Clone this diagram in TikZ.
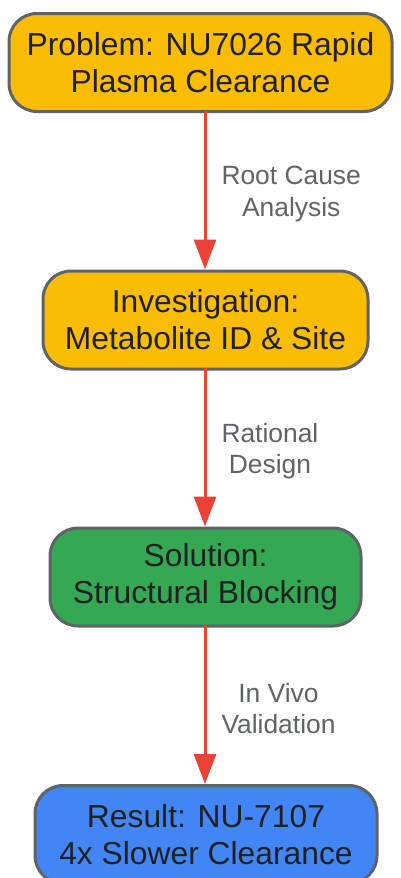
\documentclass[tikz,border=0pt]{standalone}
\usepackage{fontspec}
\setmainfont{Liberation Sans}
\usetikzlibrary{arrows.meta}
\definecolor{cyellow}{HTML}{FBBC04}
\definecolor{cgreen}{HTML}{34A853}
\definecolor{cblue}{HTML}{4285F4}
\definecolor{cstroke}{HTML}{5F6368}
\definecolor{ctext}{HTML}{202124}
\definecolor{cred}{HTML}{EA4335}
\definecolor{clabel}{HTML}{5F6368}
\tikzset{
  box/.style={draw=cstroke, line width=3pt, rounded corners=28pt, align=center,
    text=ctext, font=\fontsize{31.8}{37}\selectfont, inner sep=0pt, minimum height=98pt},
  flow/.style={draw=cred, line width=3pt, -{Triangle[length=30pt,width=22pt]}},
  lbl/.style={text=clabel, font=\fontsize{26.4}{31.5}\selectfont, align=center, anchor=west, inner sep=0pt}
}
\begin{document}
\begin{tikzpicture}[x=1pt,y=1pt]
\useasboundingbox (0,0) rectangle (401,-878);
\clip (0,0) rectangle (401,-878);
\node[box, fill=cyellow, minimum width=383pt] (b1) at (200.5,-62.5) {Problem: NU7026 Rapid\\Plasma Clearance};
\node[box, fill=cyellow, minimum width=325pt] (b2) at (205.5,-320) {Investigation:\\Metabolite ID \& Site};
\node[box, fill=cgreen, minimum width=311pt] (b3) at (205.5,-577) {Solution:\\Structural Blocking};
\node[box, fill=cblue, minimum width=342pt] (b4) at (206,-834.5) {Result: NU-7107\\4x Slower Clearance};
\coordinate (a1) at (205,-111);
\coordinate (a2) at (205,-368);
\coordinate (a3) at (205,-625);
\draw[flow] (a1) -- (a1 |- b2.north) node[lbl, midway, xshift=15pt, yshift=-4pt] (l1) {Root Cause\\Analysis};
\draw[flow] (a2) -- (a2 |- b3.north) node[lbl, midway, xshift=15pt, yshift=-4pt] (l2) {Rational\\Design};
\draw[flow] (a3) -- (a3 |- b4.north) node[lbl, midway, xshift=15pt, yshift=-4pt] (l3) {In Vivo\\Validation};
\end{tikzpicture}
\end{document}
